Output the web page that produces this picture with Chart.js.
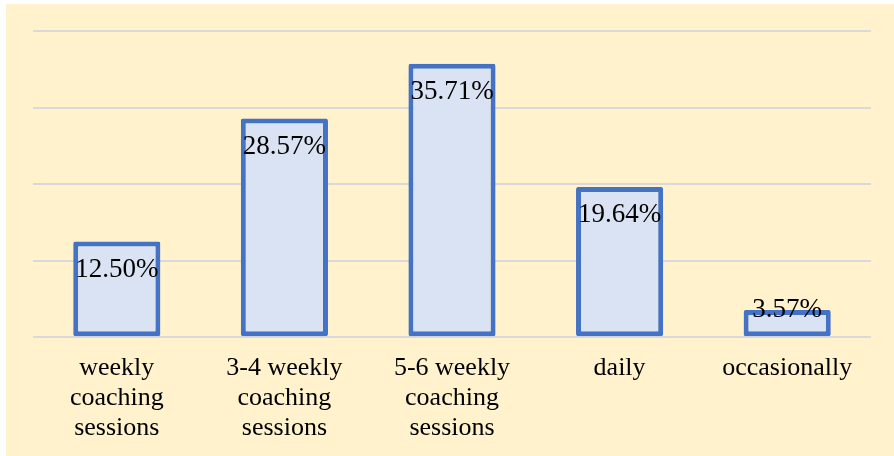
<!DOCTYPE html>
<html>
<head>
<meta charset="utf-8">
<script src="https://cdn.jsdelivr.net/npm/chart.js@4/dist/chart.umd.min.js"></script>
<style>
  html, body { margin: 0; padding: 0; background: #ffffff; }
  #wrap { position: absolute; left: 6px; top: 4px; width: 888px; height: 452px; background: #FFF2CC; }
</style>
</head>
<body>
<div id="wrap"><canvas id="grafico"></canvas></div>
<script>
// categorias e valores (%)
const categorias = [
  ["weekly", "coaching", "sessions"],
  ["3-4 weekly", "coaching", "sessions"],
  ["5-6 weekly", "coaching", "sessions"],
  "daily",
  "occasionally"
];
const valores = [12.50, 28.57, 35.71, 19.64, 3.57];
const rotulos = ["12.50%", "28.57%", "35.71%", "19.64%", "3.57%"];

const fonte = "'Liberation Serif', 'Times New Roman', serif";

// rótulos dentro do topo da barra
const rotuloPlugin = {
  id: "rotuloPlugin",
  afterDatasetsDraw(chart) {
    const c = chart.ctx;
    const meta = chart.getDatasetMeta(0);
    c.save();
    c.font = "27px " + fonte;
    c.fillStyle = "#000000";
    c.textAlign = "center";
    c.textBaseline = "middle";
    meta.data.forEach((bar, i) => {
      const altura = bar.base - bar.y;
      const y = altura > 60 ? bar.y + 28 : bar.y;
      c.fillText(rotulos[i], bar.x, y);
    });
    c.restore();
  }
};

new Chart(document.getElementById("grafico"), {
  type: "bar",
  data: {
    labels: categorias,
    datasets: [{
      data: valores,
      backgroundColor: "#DAE3F3",
      borderColor: "#4472C4",
      borderWidth: 5,
      borderSkipped: false,
      borderRadius: 2,
      barPercentage: 0.52,
      categoryPercentage: 1
    }]
  },
  options: {
    responsive: true,
    maintainAspectRatio: false,
    animation: false,
    layout: { padding: { left: 27, right: 23, top: 27, bottom: 5 } },
    plugins: {
      legend: { display: false },
      tooltip: { enabled: false }
    },
    scales: {
      x: {
        grid: { display: false },
        border: { display: false },
        ticks: {
          color: "#000000",
          font: { family: fonte, size: 26, lineHeight: 1.15 },
          padding: 8,
          maxRotation: 0,
          autoSkip: false
        }
      },
      y: {
        min: 0,
        max: 40,
        ticks: { display: false, stepSize: 10 },
        border: { display: false },
        grid: { color: "#D9D9D9", lineWidth: 2, drawTicks: false }
      }
    }
  },
  plugins: [rotuloPlugin]
});
</script>
</body>
</html>
